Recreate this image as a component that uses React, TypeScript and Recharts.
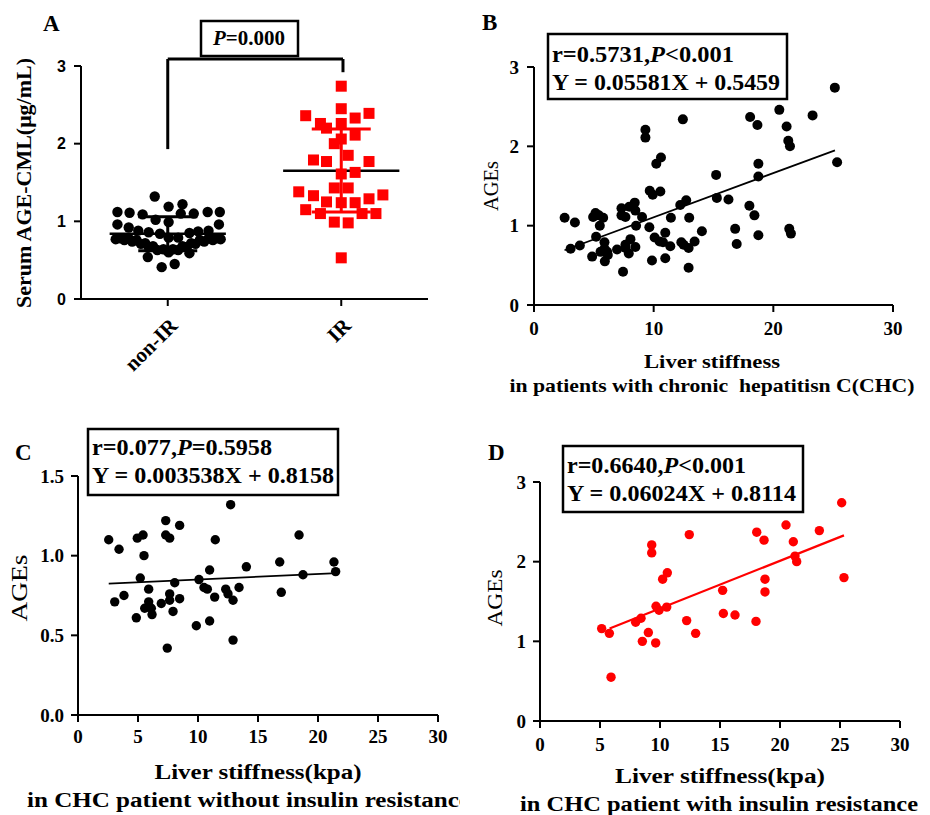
import React from "react";
import { ScatterChart, Scatter, XAxis, YAxis, ReferenceLine } from "recharts";

const W = 930;
const H = 815;
const YW = 60;
const XH = 40;
const SERIF = "'Liberation Serif', 'Times New Roman', serif";
const SANS = "'Liberation Sans', Arial, sans-serif";
const RED = "#ff0000";
const BLACK = "#000";

// panel A: x is the group slot (1 = non-IR, 3 = IR) plus the spread of the dots
const groupSlots = [1, 3];
const groupNames = ["non-IR", "IR"];
const nonIrDots: [number, number][] = [
  [0.85, 1.32], [1.01, 1.19], [1.17, 1.22], [0.42, 1.12], [0.56, 1.11], [0.71, 1.09],
  [0.86, 1.02], [1.01, 0.99], [1.15, 1.1], [1.3, 1.1], [1.46, 1.12], [1.6, 1.12],
  [0.42, 0.96], [0.55, 0.92], [0.66, 0.88], [0.78, 0.86], [0.91, 0.84], [1.01, 0.79],
  [1.12, 0.79], [1.25, 0.85], [1.35, 0.87], [1.47, 0.88], [1.59, 0.96],
  [0.4, 0.77], [0.5, 0.76], [0.59, 0.74], [0.69, 0.71], [0.78, 0.67], [0.88, 0.63],
  [1.01, 0.6], [1.12, 0.63], [1.22, 0.67], [1.32, 0.71], [1.42, 0.74], [1.52, 0.76],
  [1.61, 0.77], [0.45, 0.78], [0.55, 0.78], [0.64, 0.76], [0.74, 0.72], [0.83, 0.68],
  [0.95, 0.64], [1.06, 0.64], [1.17, 0.68], [1.27, 0.72], [1.37, 0.76], [1.47, 0.78],
  [1.57, 0.78], [0.77, 0.54], [1.25, 0.59], [0.93, 0.41], [1.08, 0.45],
];
const irDots: [number, number][] = [
  [3.0, 2.74], [3.0, 2.45], [2.59, 2.36], [3.32, 2.39], [3.16, 2.33], [2.76, 2.26],
  [3.0, 2.26], [2.83, 2.2], [3.0, 2.06], [2.92, 2.0], [3.16, 2.11], [3.08, 1.85],
  [2.68, 1.79], [2.83, 1.77], [3.32, 1.77], [3.0, 1.61], [3.16, 1.63], [2.51, 1.38],
  [2.68, 1.33], [2.92, 1.43], [3.08, 1.43], [3.48, 1.34], [2.83, 1.25], [3.0, 1.24],
  [3.16, 1.24], [3.32, 1.29], [2.59, 1.15], [2.76, 1.1], [2.92, 0.99], [3.08, 0.98],
  [3.24, 1.1], [3.4, 1.1], [3.0, 0.53],
];
const nonIrSummary = { mean: 0.84, sdLow: 0.62, sdHigh: 1.06 };
const irSummary = { mean: 1.65, sdLow: 1.12, sdHigh: 2.19 };

// panels C and D: liver stiffness (kPa), AGEs. Panel B pools both groups
const withoutIr: [number, number][] = [
  [2.56, 1.1], [3.42, 1.04], [3.06, 0.71], [3.83, 0.75], [4.94, 1.11], [5.42, 1.13],
  [5.5, 1.0], [5.19, 0.86], [4.86, 0.61], [5.89, 0.79], [5.89, 0.71], [5.56, 0.67],
  [6.11, 0.67], [6.17, 0.63], [6.94, 0.7], [7.31, 1.22], [7.31, 1.13], [7.64, 1.11],
  [8.47, 1.19], [7.64, 0.76], [7.64, 0.72], [8.06, 0.83], [7.92, 0.65], [8.47, 0.73],
  [7.44, 0.42], [10.08, 0.85], [10.5, 0.8], [10.78, 0.79], [9.86, 0.56], [10.97, 0.91],
  [11.44, 1.1], [11.39, 0.74], [10.97, 0.59], [12.31, 0.79], [12.5, 0.76], [12.92, 0.72],
  [13.42, 0.8], [12.72, 1.32], [12.92, 0.47], [14.03, 0.93], [16.81, 0.96], [16.94, 0.77],
  [18.42, 1.13], [18.75, 0.88], [21.33, 0.96], [21.47, 0.9],
];
const withIr: [number, number][] = [
  [5.14, 1.16], [5.78, 1.1], [5.92, 0.55], [7.97, 1.24], [8.42, 1.29], [8.53, 1.0],
  [9.03, 1.11], [9.64, 0.98], [9.31, 2.21], [9.31, 2.11], [9.67, 1.44], [9.92, 1.39],
  [10.56, 1.43], [10.22, 1.78], [10.61, 1.86], [12.22, 1.26], [12.44, 2.34], [12.97, 1.1],
  [15.22, 1.64], [15.28, 1.35], [16.25, 1.33], [18.0, 1.25], [18.06, 2.37], [18.67, 2.27],
  [18.75, 1.78], [18.75, 1.62], [20.5, 2.46], [21.11, 2.25], [21.25, 2.07], [21.39, 2.0],
  [23.28, 2.39], [25.14, 2.74], [25.33, 1.8],
];
const pooled = [...withoutIr, ...withIr];

// ends of the fitted lines as drawn
const fitB: [number, number][] = [[2.55, 0.69], [25.15, 1.95]];
const fitC: [number, number][] = [[2.56, 0.825], [21.6, 0.89]];
const fitD: [number, number][] = [[5.8, 1.16], [25.33, 2.33]];

const agesTicks = [0, 1, 2, 3];
const agesTicksC = [0, 0.5, 1, 1.5];
const stiffTicksB = [0, 10, 20, 30];
const stiffTicks = [0, 5, 10, 15, 20, 25, 30];

const MEAN_HALF = 0.67;
const CAP_HALF = 0.34;

const pts = (arr: [number, number][]) => arr.map(([x, y]) => ({ x, y }));

const dot = (r: number, fill: string) => (p: any) =>
  <circle cx={p.cx} cy={p.cy} r={r} fill={fill} />;
const square = (s: number, fill: string) => (p: any) =>
  <rect x={p.cx - s / 2} y={p.cy - s / 2} width={s} height={s} fill={fill} />;

const axisStroke = { stroke: BLACK, strokeWidth: 2 };

function frame(l: number, t: number, r: number, b: number) {
  return { left: l - YW, top: t, right: W - r, bottom: H - b - XH };
}

// tick renderers: y ticks right-aligned and centred, x ticks hang below the tick mark
const yTick = (family: string, size: number, fmt?: (v: number) => string) => (p: any) => (
  <text x={p.x} y={p.y} textAnchor="end" dominantBaseline="central"
    fontFamily={family} fontWeight="bold" fontSize={size} fill={BLACK}>
    {fmt ? fmt(p.payload.value) : p.payload.value}
  </text>
);
const xTick = (size: number) => (p: any) => (
  <text x={p.x} y={p.y} textAnchor="middle" dominantBaseline="hanging"
    fontFamily={SERIF} fontWeight="bold" fontSize={size} fill={BLACK}>
    {p.payload.value}
  </text>
);

const GroupTick = (props: any) => {
  const { x, y, payload } = props;
  const name = groupNames[groupSlots.indexOf(payload.value)];
  return (
    <text
      transform={`translate(${x + 6},${y + 14}) rotate(-45)`}
      textAnchor="end"
      dominantBaseline="central"
      fontFamily={SERIF}
      fontWeight="bold"
      fontSize={21}
      fill={BLACK}
    >
      {name}
    </text>
  );
};

function summaryLines(slot: number, s: typeof irSummary, barColor: string) {
  return [
    <ReferenceLine key={`m${slot}`} segment={[{ x: slot - MEAN_HALF, y: s.mean }, { x: slot + MEAN_HALF, y: s.mean }]} stroke={BLACK} strokeWidth={2.5} />,
    <ReferenceLine key={`v${slot}`} segment={[{ x: slot, y: s.sdLow }, { x: slot, y: s.sdHigh }]} stroke={barColor} strokeWidth={3} />,
    <ReferenceLine key={`h${slot}`} segment={[{ x: slot - CAP_HALF, y: s.sdHigh }, { x: slot + CAP_HALF, y: s.sdHigh }]} stroke={barColor} strokeWidth={3} />,
    <ReferenceLine key={`l${slot}`} segment={[{ x: slot - CAP_HALF, y: s.sdLow }, { x: slot + CAP_HALF, y: s.sdLow }]} stroke={barColor} strokeWidth={3} />,
  ];
}

const layer: React.CSSProperties = { position: "absolute", left: 0, top: 0 };

function PanelA() {
  return (
    <div style={layer}>
      <ScatterChart width={W} height={H} margin={frame(81, 66, 428, 299)}>
        <XAxis type="number" dataKey="x" domain={[0, 4]} ticks={groupSlots} interval={0} height={XH}
          tickSize={7} tickMargin={2} axisLine={axisStroke} tickLine={axisStroke} tick={(p: any) => <GroupTick {...p} />} />
        <YAxis type="number" dataKey="y" domain={[0, 3]} ticks={agesTicks} interval={0} width={YW}
          tickSize={7} tickMargin={8} axisLine={axisStroke} tickLine={axisStroke}
          tick={yTick(SANS, 16)} />
        <Scatter data={pts(nonIrDots)} shape={dot(5.2, BLACK)} isAnimationActive={false} />
        <Scatter data={pts(irDots)} shape={square(11, RED)} isAnimationActive={false} />
        {summaryLines(1, nonIrSummary, BLACK)}
        {summaryLines(3, irSummary, RED)}
        <ReferenceLine segment={[{ x: 1, y: 1.93 }, { x: 1, y: 3.09 }]} stroke={BLACK} strokeWidth={3} ifOverflow="visible" />
        <ReferenceLine segment={[{ x: 1, y: 3.09 }, { x: 3.02, y: 3.09 }]} stroke={BLACK} strokeWidth={3} ifOverflow="visible" />
        <ReferenceLine segment={[{ x: 3.02, y: 3.09 }, { x: 3.02, y: 2.92 }]} stroke={BLACK} strokeWidth={3} ifOverflow="visible" />
      </ScatterChart>
    </div>
  );
}

function StiffnessPanel(props: {
  box: [number, number, number, number];
  yDomain: [number, number];
  yTicks: number[];
  xTicks: number[];
  yFmt?: (v: number) => string;
  tickSize: number;
  xMargin: number;
  yMargin: number;
  data: [number, number][];
  fit: [number, number][];
  color: string;
  r: number;
  fitWidth: number;
}) {
  const [l, t, r, b] = props.box;
  return (
    <div style={layer}>
      <ScatterChart width={W} height={H} margin={frame(l, t, r, b)}>
        <XAxis type="number" dataKey="x" domain={[0, 30]} ticks={props.xTicks} interval={0} height={XH}
          tickSize={7} tickMargin={props.xMargin} axisLine={axisStroke} tickLine={axisStroke} tick={xTick(props.tickSize)} />
        <YAxis type="number" dataKey="y" domain={props.yDomain} ticks={props.yTicks} interval={0} width={YW}
          tickSize={7} tickMargin={props.yMargin} axisLine={axisStroke} tickLine={axisStroke}
          tick={yTick(SERIF, props.tickSize, props.yFmt)} />
        <Scatter data={pts(props.data)} shape={dot(props.r, props.color)} isAnimationActive={false} />
        <ReferenceLine segment={pts(props.fit)} stroke={props.color} strokeWidth={props.fitWidth} />
      </ScatterChart>
    </div>
  );
}

const txt = { fontFamily: SERIF, fill: BLACK } as const;

function StatBox(props: { x: number; y: number; w: number; h: number; lead: string; p: string; eq: string; base: number; l1: number; l2: number }) {
  const { x, y, w, h } = props;
  return (
    <g>
      <rect x={x} y={y} width={w} height={h} fill="#fff" stroke={BLACK} strokeWidth={2.5} />
      <text {...txt} x={x + 4} y={props.base} fontSize={23} fontWeight="bold" textLength={props.l1} lengthAdjust="spacingAndGlyphs">
        {props.lead}<tspan fontStyle="italic">P</tspan>{props.p}
      </text>
      <text {...txt} x={x + 4} y={props.base + 28} fontSize={23} fontWeight="bold" textLength={props.l2} lengthAdjust="spacingAndGlyphs">
        {props.eq}
      </text>
    </g>
  );
}

function Annotations() {
  return (
    <svg width={W} height={H} style={layer}>
      <defs>
        <clipPath id="clip-c">
          <rect x={0} y={0} width={460} height={H} />
        </clipPath>
      </defs>
      {/* panel letters */}
      <text {...txt} x={43} y={31} fontSize={23} fontWeight="bold">A</text>
      <text {...txt} x={482} y={30} fontSize={23} fontWeight="bold">B</text>
      <text {...txt} x={15} y={460} fontSize={23} fontWeight="bold">C</text>
      <text {...txt} x={488} y={460} fontSize={23} fontWeight="bold">D</text>

      {/* A */}
      <rect x={201} y={21} width={97} height={35} fill="#fff" stroke={BLACK} strokeWidth={2.5} />
      <text {...txt} x={213} y={45} fontSize={21} fontWeight="bold" textLength={72} lengthAdjust="spacingAndGlyphs">
        <tspan fontStyle="italic">P</tspan>=0.000
      </text>
      <text {...txt} transform="translate(31,183) rotate(-90)" textAnchor="middle" fontSize={22} fontWeight="bold"
        textLength={250} lengthAdjust="spacingAndGlyphs">Serum AGE-CML(μg/mL)</text>

      {/* B */}
      <StatBox x={548} y={34} w={239} h={65} base={62} lead="r=0.5731," p="<0.001" eq="Y = 0.05581X + 0.5459" l1={182} l2={228} />
      <text {...txt} transform="translate(498,186) rotate(-90)" textAnchor="middle" fontSize={21} textLength={50} lengthAdjust="spacingAndGlyphs">AGEs</text>
      <text {...txt} x={712} y={368} textAnchor="middle" fontSize={19} fontWeight="bold" textLength={136} lengthAdjust="spacingAndGlyphs">Liver stiffness</text>
      <text {...txt} x={712} y={392} textAnchor="middle" fontSize={19} fontWeight="bold" textLength={405} lengthAdjust="spacingAndGlyphs" style={{ whiteSpace: "pre" }}>
        in patients with chronic  hepatitisn C(CHC)
      </text>

      {/* C */}
      <StatBox x={88} y={429} w={250} h={66} base={455} lead="r=0.077," p="=0.5958" eq="Y = 0.003538X + 0.8158" l1={180} l2={242} />
      <text {...txt} transform="translate(27,588) rotate(-90)" textAnchor="middle" fontSize={24} textLength={67} lengthAdjust="spacingAndGlyphs">AGEs</text>
      <text {...txt} x={258} y={779} textAnchor="middle" fontSize={20} fontWeight="bold" textLength={207} lengthAdjust="spacingAndGlyphs">Liver stiffness(kpa)</text>
      <g clipPath="url(#clip-c)">
        <text {...txt} x={27} y={807} fontSize={20} fontWeight="bold" textLength={443} lengthAdjust="spacingAndGlyphs">
          in CHC patient without insulin resistance
        </text>
      </g>

      {/* D */}
      <StatBox x={563} y={446} w={240} h={66} base={473} lead="r=0.6640," p="<0.001" eq="Y = 0.06024X + 0.8114" l1={179} l2={229} />
      <text {...txt} transform="translate(502,598) rotate(-90)" textAnchor="middle" fontSize={21} textLength={57} lengthAdjust="spacingAndGlyphs">AGEs</text>
      <text {...txt} x={720} y={783} textAnchor="middle" fontSize={20} fontWeight="bold" textLength={210} lengthAdjust="spacingAndGlyphs">Liver stiffness(kpa)</text>
      <text {...txt} x={719} y={811} textAnchor="middle" fontSize={20} fontWeight="bold" textLength={398} lengthAdjust="spacingAndGlyphs">
        in CHC patient with insulin resistance
      </text>
    </svg>
  );
}

export default function App() {
  return (
    <div style={{ position: "absolute", left: 0, top: 0, width: W, height: H, background: "#fff" }}>
      <PanelA />
      <StiffnessPanel box={[534, 67, 893, 305]} yDomain={[0, 3]} yTicks={agesTicks} xTicks={stiffTicksB}
        tickSize={19} xMargin={9} yMargin={8} data={pooled} fit={fitB} color={BLACK} r={5} fitWidth={1.8} />
      <StiffnessPanel box={[78, 476, 438, 715]} yDomain={[0, 1.5]} yTicks={agesTicksC} xTicks={stiffTicks}
        yFmt={(v) => v.toFixed(1)} tickSize={19} xMargin={7} yMargin={7} data={withoutIr} fit={fitC} color={BLACK} r={4.7} fitWidth={1.8} />
      <StiffnessPanel box={[540, 482, 900, 721]} yDomain={[0, 3]} yTicks={agesTicks} xTicks={stiffTicks}
        tickSize={19} xMargin={9} yMargin={7} data={withIr} fit={fitD} color={RED} r={4.7} fitWidth={2.2} />
      <Annotations />
    </div>
  );
}
